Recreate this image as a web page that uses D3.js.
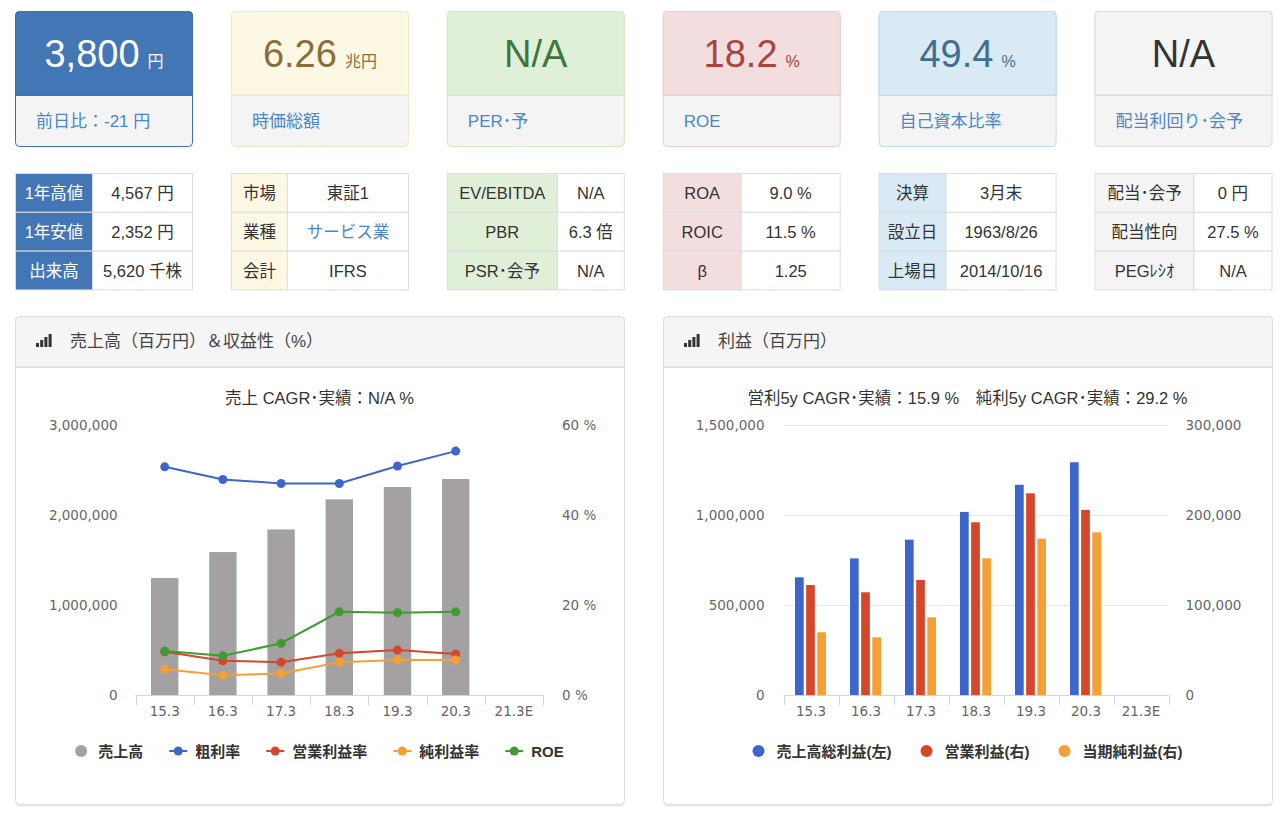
<!DOCTYPE html>
<html><head><meta charset="utf-8">
<script src="https://cdn.jsdelivr.net/npm/d3@7"></script>
<style>
body{margin:0;background:#fff;}
svg text{font-family:"Liberation Sans","Noto Sans CJK JP",sans-serif;}
</style></head><body>
<svg id="c" width="1280" height="815"></svg>
<script>
// ---------- data ----------
const cardValues = ["3,800","6.26","N/A","18.2","49.4","N/A"];
const cardUnits = ["円","兆円","","%","%",""];
const cardLabels = ["前日比：-21 円","時価総額","PER･予","ROE","自己資本比率","配当利回り･会予"];
const tableLabels = [["1年高値","1年安値","出来高"],["市場","業種","会計"],["EV/EBITDA","PBR","PSR･会予"],["ROA","ROIC","β"],["決算","設立日","上場日"],["配当･会予","配当性向","PEGﾚｼｵ"]];
const tableValues = [["4,567 円","2,352 円","5,620 千株"],["東証1","サービス業","IFRS"],["N/A","6.3 倍","N/A"],["9.0 %","11.5 %","1.25"],["3月末","1963/8/26","2014/10/16"],["0 円","27.5 %","N/A"]];

const categories = ["15.3","16.3","17.3","18.3","19.3","20.3","21.3E"];
const sales       = [1299930,1588623,1839987,2173385,2310756,2399465,null];
const grossMargin = [50.7,47.9,47.0,47.0,50.9,54.2,null];
const opMargin    = [9.6,7.6,7.3,9.3,10.0,9.1,null];
const netMargin   = [5.7,4.4,4.8,7.3,7.8,7.8,null];
const roe         = [9.8,8.7,11.5,18.5,18.3,18.5,null];
const salesTicks  = [0,1000000,2000000,3000000];
const pctTicks    = [0,20,40,60];

const grossProfit = [654000,759000,863000,1017000,1168000,1293000,null];
const opIncome    = [122200,114100,127800,191900,224100,205600,null];
const netIncome   = [69700,64100,86300,151900,173700,180800,null];
const profitLeftTicks  = [0,500000,1000000,1500000];
const profitRightTicks = [0,100000,200000,300000];

const chart1Title = "売上 CAGR･実績：N/A %";
const chart2Title = "営利5y CAGR･実績：15.9 %　純利5y CAGR･実績：29.2 %";
const panel1Title = "売上高（百万円）＆収益性（%）";
const panel2Title = "利益（百万円）";
const legend1 = ["売上高","粗利率","営業利益率","純利益率","ROE"];
const legend2 = ["売上高総利益(左)","営業利益(右)","当期純利益(右)"];

// ---------- styles ----------
const themes = [
  {top:"#4376b5", border:"#3d70ae", value:"#ffffff", lab:"#4376b5", labText:"#ffffff"},
  {top:"#fcf8e3", border:"#f3e8c4", value:"#8a6d3b", lab:"#fcf8e3", labText:"#333"},
  {top:"#e0efd8", border:"#d3e6c5", value:"#3c763d", lab:"#e0efd8", labText:"#333"},
  {top:"#f2dede", border:"#ebccd1", value:"#a94442", lab:"#f2dede", labText:"#333"},
  {top:"#d9eaf5", border:"#bfdcec", value:"#3f6f92", lab:"#d9eaf5", labText:"#333"},
  {top:"#f4f4f4", border:"#dcdcdc", value:"#333333", lab:"#f4f4f4", labText:"#333"}
];
const linkBlue = "#4a86c8";
const labelColW = [77,56,110,78,67,99];
const colBlue="#3d66cc", colRed="#d6462b", colOrange="#f5a035", colGreen="#3f9b32", colGray="#a3a1a1";

const svg = d3.select("#c");
const cardX = i => 15 + i*215.9;
const cardW = 178;

// ---------- cards ----------
cardValues.forEach((v,i)=>{
  const t = themes[i], x = cardX(i);
  const g = svg.append("g");
  g.append("rect").attr("x",x+0.5).attr("y",11.5).attr("width",cardW-1).attr("height",135)
    .attr("rx",4).attr("fill","#f4f4f4").attr("stroke",t.border);
  g.append("path").attr("d",`M${x+0.5},95 V15.5 q0,-4 4,-4 H${x+cardW-4.5} q4,0 4,4 V95 Z`)
    .attr("fill",t.top).attr("stroke",t.border);
  g.append("line").attr("x1",x).attr("x2",x+cardW).attr("y1",95.5).attr("y2",95.5).attr("stroke",t.border);
  const tx = g.append("text").attr("x",x+cardW/2).attr("y",67).attr("text-anchor","middle").attr("fill",t.value);
  tx.append("tspan").attr("font-size",38).text(v);
  if(cardUnits[i]) tx.append("tspan").attr("font-size",16).attr("dx",8).text(cardUnits[i]);
  g.append("text").attr("x",x+21).attr("y",127).attr("font-size",17).attr("fill",linkBlue).text(cardLabels[i]);
});

// ---------- tables ----------
const rowH = 38.8, tTop = 173.5;
tableLabels.forEach((rows,i)=>{
  const t = themes[i], x = cardX(i)+0.5, w = cardW-1, lw = labelColW[i];
  const g = svg.append("g");
  rows.forEach((lab,r)=>{
    const y = tTop + r*rowH;
    g.append("rect").attr("x",x).attr("y",y).attr("width",lw).attr("height",rowH).attr("fill",t.lab).attr("stroke","#ddd");
    g.append("rect").attr("x",x+lw).attr("y",y).attr("width",w-lw).attr("height",rowH).attr("fill","#fff").attr("stroke","#ddd");
    g.append("text").attr("x",x+lw/2).attr("y",y+rowH/2+6).attr("text-anchor","middle").attr("font-size",16.5)
      .attr("fill",t.labText).text(lab);
    const val = tableValues[i][r];
    g.append("text").attr("x",x+lw+(w-lw)/2).attr("y",y+rowH/2+6).attr("text-anchor","middle").attr("font-size",16.5)
      .attr("fill",(i===1&&r===1)?linkBlue:"#333").text(val);
  });
});

// ---------- panels ----------
function panel(x,w,title){
  const g = svg.append("g");
  g.append("rect").attr("x",x+0.5).attr("y",317.5).attr("width",w).attr("height",488).attr("rx",4)
    .attr("fill","#e9e9e9").attr("transform","translate(0,1)");
  g.append("rect").attr("x",x+0.5).attr("y",316.5).attr("width",w).attr("height",488).attr("rx",4)
    .attr("fill","#fff").attr("stroke","#ddd");
  g.append("path").attr("d",`M${x+0.5},367 V320.5 q0,-4 4,-4 H${x+w-3.5} q4,0 4,4 V367 Z`)
    .attr("fill","#f5f5f5").attr("stroke","#ddd");
  g.append("line").attr("x1",x).attr("x2",x+w+1).attr("y1",367.5).attr("y2",367.5).attr("stroke","#ddd");
  [4,7,10,13].forEach((h,k)=>{
    g.append("rect").attr("x",x+21+k*4.2).attr("y",347-h).attr("width",3).attr("height",h).attr("fill","#333");
  });
  g.append("text").attr("x",x+55).attr("y",347).attr("font-size",17).attr("fill","#444").text(title);
}
panel(15,609,panel1Title);
panel(663,609,panel2Title);

const axisFont = '"DejaVu Sans",sans-serif';
function styleAxis(g){
  g.select(".domain").remove();
  g.selectAll("text").attr("fill","#666").attr("font-size",13.5).style("font-family",axisFont);
}
function xAxis(x,y0){
  const g = svg.append("g");
  const bw = x.bandwidth();
  const r = x.range();
  g.append("line").attr("x1",r[0]).attr("x2",r[1]).attr("y1",y0+0.5).attr("y2",y0+0.5).attr("stroke","#ccd6eb");
  const bounds = categories.map(c=>x(c)).concat([x(categories[categories.length-1])+bw]);
  bounds.forEach(b=>g.append("line").attr("x1",Math.round(b)+0.5).attr("x2",Math.round(b)+0.5)
    .attr("y1",y0).attr("y2",y0+10).attr("stroke","#ccd6eb"));
  const a = svg.append("g").attr("transform",`translate(0,${y0})`)
    .call(d3.axisBottom(x).tickSize(0).tickPadding(11));
  styleAxis(a);
}

// ---------- chart 1 ----------
{
  const x = d3.scaleBand().domain(categories).range([135.6,543]);
  const yL = d3.scaleLinear().domain([0,3000000]).range([695,425]);
  const yR = d3.scaleLinear().domain([0,60]).range([695,425]);
  const bw = x.bandwidth();
  svg.append("text").attr("x",319.5).attr("y",404).attr("text-anchor","middle").attr("font-size",16.5).attr("fill","#333").text(chart1Title);
  const al = svg.append("g").attr("transform","translate(135.6,0)")
    .call(d3.axisLeft(yL).tickValues(salesTicks).tickFormat(d3.format(",")).tickSize(0).tickPadding(18));
  styleAxis(al);
  const ar = svg.append("g").attr("transform","translate(543,0)")
    .call(d3.axisRight(yR).tickValues(pctTicks).tickFormat(d=>d+" %").tickSize(0).tickPadding(19));
  styleAxis(ar);
  xAxis(x,695);
  const barW = bw*0.47;
  svg.append("g").selectAll("rect").data(sales.map((v,i)=>({v,c:categories[i]})).filter(d=>d.v!=null))
    .join("rect").attr("x",d=>x(d.c)+(bw-barW)/2).attr("width",barW)
    .attr("y",d=>yL(d.v)).attr("height",d=>yL(0)-yL(d.v)).attr("fill",colGray);
  const series = [[grossMargin,colBlue],[opMargin,colRed],[netMargin,colOrange],[roe,colGreen]];
  series.forEach(([arr,col])=>{
    const pts = arr.map((v,i)=>({v,c:categories[i]})).filter(d=>d.v!=null);
    svg.append("path").datum(pts).attr("fill","none").attr("stroke",col).attr("stroke-width",2)
      .attr("d",d3.line().x(d=>x(d.c)+bw/2).y(d=>yR(d.v)));
    svg.append("g").selectAll("circle").data(pts).join("circle")
      .attr("cx",d=>x(d.c)+bw/2).attr("cy",d=>yR(d.v)).attr("r",4.5).attr("fill",col);
  });
  // legend
  const cols = [colGray,colBlue,colRed,colOrange,colGreen];
  const lg = svg.append("g");
  let cx = 0;
  legend1.forEach((t,i)=>{
    const it = lg.append("g");
    if(i===0) it.append("circle").attr("cx",6).attr("cy",0).attr("r",6).attr("fill",cols[i]);
    else {
      it.append("line").attr("x1",0).attr("x2",18).attr("y1",0).attr("y2",0).attr("stroke",cols[i]).attr("stroke-width",2);
      it.append("circle").attr("cx",9).attr("cy",0).attr("r",4.5).attr("fill",cols[i]);
    }
    const tx = (i===0)?23:26;
    const txt = it.append("text").attr("x",tx).attr("y",5.5).attr("font-size",15).attr("font-weight","bold").attr("fill","#333").text(t);
    const w = tx + txt.node().getComputedTextLength();
    it.attr("transform",`translate(${cx},751)`);
    cx += w + 26;
  });
  const total = cx - 26;
  lg.attr("transform",`translate(${319.5-total/2},0)`);
}

// ---------- chart 2 ----------
{
  const x = d3.scaleBand().domain(categories).range([783.5,1168.5]);
  const yL = d3.scaleLinear().domain([0,1500000]).range([695,425]);
  const yR = d3.scaleLinear().domain([0,300000]).range([695,425]);
  const bw = x.bandwidth();
  svg.append("text").attr("x",967.5).attr("y",404).attr("text-anchor","middle").attr("font-size",16.5).attr("fill","#333").text(chart2Title);
  svg.append("g").selectAll("line").data(profitLeftTicks.filter(d=>d>0)).join("line")
    .attr("x1",783.5).attr("x2",1168.5).attr("y1",d=>Math.round(yL(d))+0.5).attr("y2",d=>Math.round(yL(d))+0.5)
    .attr("stroke","#e6e6e6");
  const al = svg.append("g").attr("transform","translate(783.5,0)")
    .call(d3.axisLeft(yL).tickValues(profitLeftTicks).tickFormat(d3.format(",")).tickSize(0).tickPadding(19));
  styleAxis(al);
  const ar = svg.append("g").attr("transform","translate(1168.5,0)")
    .call(d3.axisRight(yR).tickValues(profitRightTicks).tickFormat(d3.format(",")).tickSize(0).tickPadding(17));
  styleAxis(ar);
  xAxis(x,695);
  const inner = d3.scaleBand().domain(["gp","op","ni"]).range([-16,15]).paddingInner(0.22);
  const sets = [["gp",grossProfit,yL,colBlue],["op",opIncome,yR,colRed],["ni",netIncome,yR,colOrange]];
  sets.forEach(([k,arr,ys,col])=>{
    svg.append("g").selectAll("rect").data(arr.map((v,i)=>({v,c:categories[i]})).filter(d=>d.v!=null))
      .join("rect").attr("x",d=>x(d.c)+bw/2+inner(k)).attr("width",inner.bandwidth())
      .attr("y",d=>ys(d.v)).attr("height",d=>ys(0)-ys(d.v)).attr("fill",col);
  });
  const cols = [colBlue,colRed,colOrange];
  const lg = svg.append("g");
  let cx = 0;
  legend2.forEach((t,i)=>{
    const it = lg.append("g");
    it.append("circle").attr("cx",6).attr("cy",0).attr("r",6).attr("fill",cols[i]);
    const txt = it.append("text").attr("x",24).attr("y",5.5).attr("font-size",15).attr("font-weight","bold").attr("fill","#333").text(t);
    const w = 24 + txt.node().getComputedTextLength();
    it.attr("transform",`translate(${cx},751)`);
    cx += w + 29;
  });
  const total = cx - 29;
  lg.attr("transform",`translate(${967.5-total/2},0)`);
}
</script>
</body></html>
